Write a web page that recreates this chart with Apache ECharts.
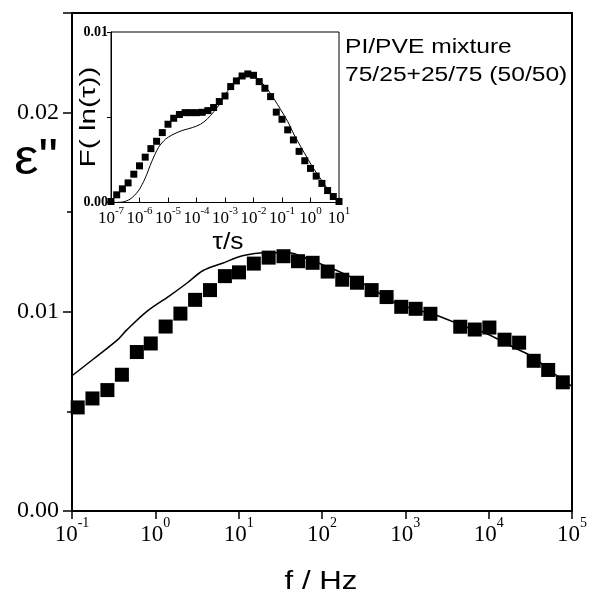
<!DOCTYPE html>
<html lang="en" style="height: 100%">
<head>
  <meta charset="utf-8">
</head>
<body style="height: 100%; margin: 0; background: #fff">
  <div id="container" style="width: 590px; height: 600px"></div>
  <script type="text/javascript" src="https://fastly.jsdelivr.net/npm/echarts@6/dist/echarts.min.js"></script>
  <script type="text/javascript">
    // main plot: measured points (f in Hz, eps'')
    var fMain = [0.117, 0.176, 0.266, 0.397, 0.600, 0.881, 1.33, 2.00, 3.00, 4.53, 6.84, 10.1, 15.2, 22.9, 34.5, 51.5, 77.1, 117, 175, 263, 394, 596, 893, 1330, 2000, 4560, 6810, 10200, 15500, 23200, 34700, 51800, 77600];
    var epsMain = [0.00520, 0.00565, 0.00607, 0.00684, 0.00798, 0.00841, 0.00926, 0.00991, 0.01060, 0.01109, 0.01179, 0.01198, 0.01242, 0.01272, 0.01279, 0.01254, 0.01246, 0.01202, 0.01161, 0.01146, 0.01109, 0.01074, 0.01025, 0.01015, 0.00990, 0.00925, 0.00911, 0.00921, 0.00860, 0.00845, 0.00754, 0.00708, 0.00646];
    // main plot: solid curve
    var fCurve = [0.1, 0.181, 0.36, 0.452, 0.78, 1.48, 2.45, 3.7, 6.4, 11.1, 21, 40, 69, 109, 172, 272, 471, 816, 2440, 5570, 8810, 21900, 34700, 54700, 100000];
    var epsCurve = [0.00679, 0.00763, 0.00863, 0.00908, 0.0100, 0.0108, 0.01147, 0.01206, 0.01244, 0.01281, 0.01297, 0.01297, 0.01264, 0.01231, 0.01197, 0.01155, 0.01097, 0.01039, 0.00980, 0.00921, 0.00896, 0.00813, 0.00771, 0.00704, 0.00626];

    // inset: relaxation time distribution (exponent of tau in s, F)
    var tauExp = [-7.0, -6.8, -6.6, -6.4, -6.2, -6.0, -5.8, -5.6, -5.4, -5.2, -5.0, -4.8, -4.6, -4.4, -4.2, -4.0, -3.8, -3.6, -3.4, -3.2, -3.0, -2.8, -2.6, -2.4, -2.2, -2.0, -1.8, -1.6, -1.4, -1.2, -1.0, -0.8, -0.6, -0.4, -0.2, 0.0, 0.2, 0.4, 0.6, 0.8, 1.0];
    var fInset = [0.00006, 0.00045, 0.00080, 0.00115, 0.00166, 0.00215, 0.00266, 0.00316, 0.00359, 0.00410, 0.00459, 0.00494, 0.00516, 0.00527, 0.00527, 0.00527, 0.00529, 0.00539, 0.00557, 0.00592, 0.00625, 0.00680, 0.00713, 0.00742, 0.00754, 0.00746, 0.00709, 0.00670, 0.00621, 0.00530, 0.00488, 0.00426, 0.00367, 0.00300, 0.00245, 0.00200, 0.00155, 0.00112, 0.00070, 0.00035, 0.00006];
    var tauCurveExp = [-7.0, -6.62, -6.33, -6.04, -5.8, -5.57, -5.33, -5.09, -4.86, -4.51, -4.15, -3.86, -3.62, -3.39, -3.15, -2.92, -2.68, -2.45, -2.21, -1.98, -1.74, -1.51, -1.27, -1.04, -0.8, -0.57, -0.33, -0.09, 0.14, 0.38, 0.61, 0.85, 1.0];
    var fInsetCurve = [0, 0.00002, 0.00020, 0.00068, 0.00143, 0.00240, 0.00324, 0.00371, 0.00396, 0.00422, 0.00439, 0.00459, 0.00490, 0.00533, 0.00586, 0.00650, 0.00709, 0.00742, 0.00754, 0.00742, 0.00709, 0.00664, 0.00605, 0.00543, 0.00475, 0.00396, 0.00324, 0.00254, 0.00191, 0.00133, 0.00078, 0.00031, 0];

    var legendLines = ['PI/PVE mixture', '75/25+25/75 (50/50)'];

    function pairs(xs, ys) {
      return xs.map(function (x, i) { return [x, ys[i]]; });
    }
    function pairsExp(es, ys) {
      return es.map(function (e, i) { return [Math.pow(10, e), ys[i]]; });
    }
    function powLabel(v) {
      var e = Math.round(Math.log10(v));
      return '{b|10}{s|' + e + '}';
    }

    var SERIF = '"Liberation Serif", "DejaVu Serif", serif';
    var SANS = '"Liberation Sans", Arial, sans-serif';

    function label(text, x, y, size, opts) {
      opts = opts || {};
      var align = opts.align || 'center';
      return {
        type: 'text', x: x, y: y,
        rotation: opts.rotation || 0,
        scaleX: opts.stretch || 1,
        style: {
          text: text, font: size + 'px ' + SANS, fill: '#000',
          align: align, verticalAlign: 'middle', textAlign: align, textVerticalAlign: 'middle'
        }
      };
    }

    var dom = document.getElementById('container');
    var myChart = echarts.init(dom, null, { renderer: 'canvas' });

    var option = {
      animation: false,
      backgroundColor: '#fff',
      grid: [
        { left: 72, top: 13, width: 503.5, height: 498, show: true, borderColor: '#000', borderWidth: 2 },
        { left: 111, top: 32, width: 228, height: 170.5, show: true, borderColor: '#000', borderWidth: 1 }
      ],
      xAxis: [
        {
          type: 'log', logBase: 10, min: 0.1, max: 100000, splitNumber: 6, gridIndex: 0,
          axisLine: { onZero: false, lineStyle: { color: '#000', width: 2 } },
          axisTick: { inside: false, length: 8, lineStyle: { color: '#000', width: 1.5 } },
          minorTick: { show: false },
          splitLine: { show: false },
          axisLabel: {
            margin: 5, color: '#000', formatter: powLabel,
            rich: {
              b: { fontFamily: SERIF, fontSize: 23, lineHeight: 30, verticalAlign: 'bottom', color: '#000' },
              s: { fontFamily: SERIF, fontSize: 14, lineHeight: 14, verticalAlign: 'top', color: '#000' }
            }
          }
        },
        {
          type: 'log', logBase: 10, min: 1e-7, max: 10, splitNumber: 8, gridIndex: 1,
          axisLine: { onZero: false, lineStyle: { color: '#000', width: 1 } },
          axisTick: { inside: true, length: 5, lineStyle: { color: '#000', width: 1 } },
          minorTick: { show: false },
          splitLine: { show: false },
          axisLabel: {
            margin: 3, color: '#000', formatter: powLabel, hideOverlap: false,
            rich: {
              b: { fontFamily: SERIF, fontSize: 17, lineHeight: 22, verticalAlign: 'bottom', color: '#000' },
              s: { fontFamily: SERIF, fontSize: 11, lineHeight: 11, verticalAlign: 'top', color: '#000' }
            }
          }
        }
      ],
      yAxis: [
        {
          type: 'value', min: 0, max: 0.025, interval: 0.01, gridIndex: 0,
          axisLine: { show: true, onZero: false, lineStyle: { color: '#000', width: 2 } },
          axisTick: { show: true, inside: false, length: 9, lineStyle: { color: '#000', width: 1.5 } },
          minorTick: { show: true, splitNumber: 2, length: 5, lineStyle: { color: '#000', width: 1.5 } },
          splitLine: { show: false },
          axisLabel: {
            margin: 13, color: '#000', fontFamily: SERIF, fontSize: 24, showMaxLabel: false,
            formatter: function (v) { return v.toFixed(2); }
          }
        },
        {
          type: 'value', min: 0, max: 0.01, interval: 0.005, gridIndex: 1,
          axisLine: { show: true, onZero: false, lineStyle: { color: '#000', width: 1 } },
          axisTick: { show: true, inside: false, length: 4, lineStyle: { color: '#000', width: 1 } },
          splitLine: { show: false },
          axisLabel: {
            margin: 3, color: '#000', fontFamily: SERIF, fontSize: 14, fontWeight: 'bold',
            formatter: function (v) { return Math.abs(v - 0.005) < 1e-9 ? '' : v.toFixed(2); }
          }
        }
      ],
      series: [
        {
          type: 'line', xAxisIndex: 0, yAxisIndex: 0, data: pairs(fCurve, epsCurve),
          smooth: 0.3, showSymbol: false, lineStyle: { color: '#000', width: 1.5 }, z: 3
        },
        {
          type: 'scatter', xAxisIndex: 0, yAxisIndex: 0, data: pairs(fMain, epsMain),
          symbol: 'rect', symbolSize: 14, itemStyle: { color: '#000', opacity: 1 }, z: 4
        },
        {
          type: 'line', xAxisIndex: 1, yAxisIndex: 1, data: pairsExp(tauCurveExp, fInsetCurve),
          smooth: 0.3, showSymbol: false, lineStyle: { color: '#000', width: 1 }, z: 3
        },
        {
          type: 'scatter', xAxisIndex: 1, yAxisIndex: 1, data: pairsExp(tauExp, fInset),
          symbol: 'rect', symbolSize: 7, clip: false, itemStyle: { color: '#000', opacity: 1 }, z: 4
        }
      ],
      graphic: [
        label('ε"', 36, 160, 50, { stretch: 1.1 }),
        label('f / Hz', 321, 582, 26, { stretch: 1.2 }),
        label('F( ln(τ))', 89, 117, 22, { rotation: Math.PI / 2, stretch: 1.35 }),
        label('τ/s', 228, 242, 24, { stretch: 1.1 }),
        label(legendLines[0], 345, 47, 20, { align: 'left', stretch: 1.23 }),
        label(legendLines[1], 345, 75, 20, { align: 'left', stretch: 1.23 })
      ]
    };

    myChart.setOption(option);
    window.addEventListener('resize', myChart.resize);
  </script>
</body>
</html>
